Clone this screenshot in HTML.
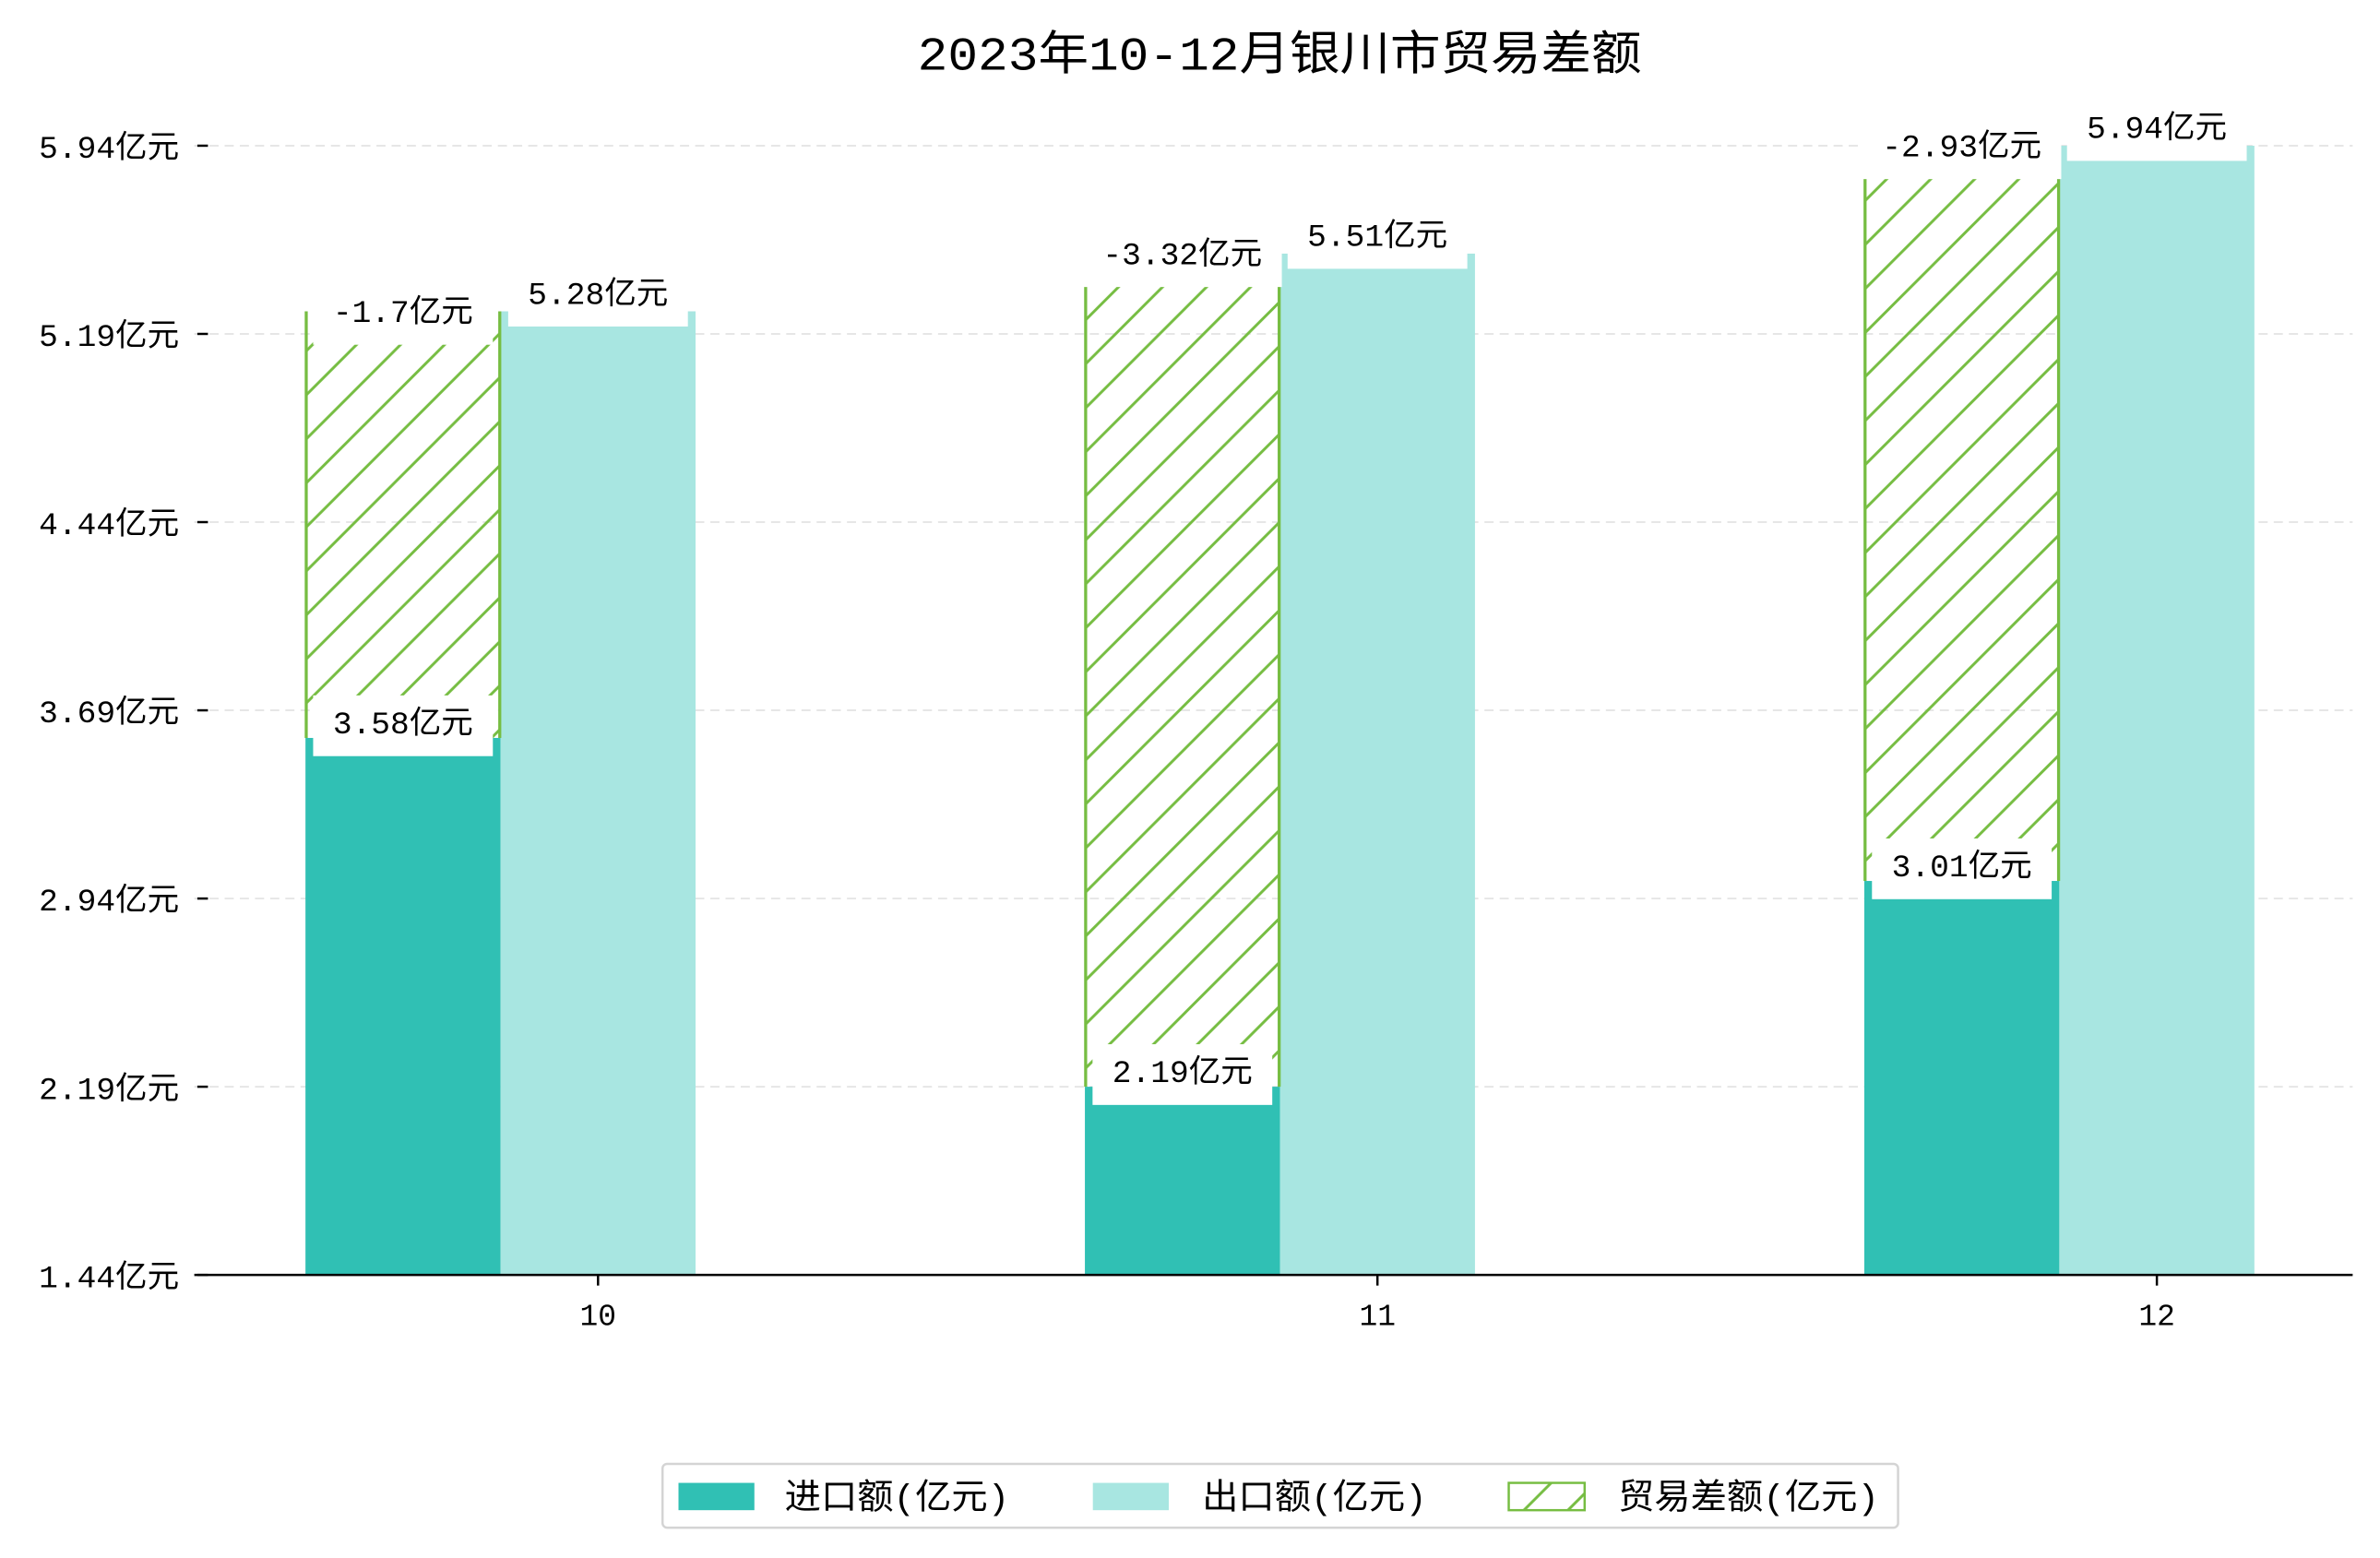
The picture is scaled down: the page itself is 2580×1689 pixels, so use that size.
<!DOCTYPE html>
<html><head><meta charset="utf-8">
<style>
html,body{margin:0;padding:0;background:#fff;}
svg{display:block;}
text{font-family:"Liberation Mono","Noto Sans CJK SC",monospace;}
</style></head>
<body>
<svg id="chart" width="2580" height="1689" viewBox="0 0 1568 1026.5" xmlns="http://www.w3.org/2000/svg">
<defs>
<pattern id="hatch" patternUnits="userSpaceOnUse" width="29" height="29" patternTransform="translate(201,0)">
<line x1="-2" y1="31" x2="31" y2="-2" stroke="#76bd42" stroke-width="1.8"/>
<line x1="-31" y1="31" x2="2" y2="-2" stroke="#76bd42" stroke-width="1.8"/>
<line x1="27" y1="31" x2="60" y2="-2" stroke="#76bd42" stroke-width="1.8"/>
</pattern>
</defs>
<text x="843" y="46" text-anchor="middle" font-size="31" textLength="477" lengthAdjust="spacingAndGlyphs">2023年10-12月银川市贸易差额</text>
<g id="grid"></g>
<g id="bars"></g>
<g id="labels"></g>
<g id="axes"></g>
<g>
<rect x="436.5" y="964.5" width="814" height="42" rx="3" fill="#fff" stroke="#d4d4d4" stroke-width="1.5"/>
<rect x="447" y="977" width="50" height="18" fill="#30c0b4"/>
<text x="517" y="994" font-size="23" textLength="148" lengthAdjust="spacingAndGlyphs">进口额(亿元)</text>
<rect x="720" y="977" width="50" height="18" fill="#a8e6e1"/>
<text x="792" y="994" font-size="23" textLength="148" lengthAdjust="spacingAndGlyphs">出口额(亿元)</text>
<rect x="994" y="977" width="50" height="18" fill="url(#hatch)" stroke="#76bd42" stroke-width="1.5"/>
<text x="1066" y="994" font-size="23" textLength="172" lengthAdjust="spacingAndGlyphs">贸易差额(亿元)</text>
</g>
</svg>
<script>
const categories = ["10", "11", "12"];
const importValues = [3.58, 2.19, 3.01];
const exportValues = [5.28, 5.51, 5.94];
const balanceValues = [-1.7, -3.32, -2.93];
const yTicks = [1.44, 2.19, 2.94, 3.69, 4.44, 5.19, 5.94];
const yMin = 1.44, yMax = 5.94;

const NS = "http://www.w3.org/2000/svg";
const plotTop = 96, plotBottom = 840, axL = 128, axR = 1550;
const catX0 = 394, catStep = 513.5, barW = 128.5;
function y(v){ return plotBottom - (v - yMin) / (yMax - yMin) * (plotBottom - plotTop); }
function x(i){ return catX0 + i * catStep; }
function mk(tag, attrs, parent){ const e=document.createElementNS(NS,tag); for(const k in attrs) e.setAttribute(k,attrs[k]); parent.appendChild(e); return e; }

const grid = document.getElementById('grid');
const bars = document.getElementById('bars');
const labels = document.getElementById('labels');
const axes = document.getElementById('axes');

categories.forEach((c,i)=>{
  const cx = x(i);
  const ix = cx - barW*1.5, ex = cx - barW/2;
  const imp = mk('rect',{x:ix,y:y(importValues[i]),width:barW,height:plotBottom-y(importValues[i]),fill:'#30c0b4'},bars);
  
  
  const exp = mk('rect',{x:ex,y:y(exportValues[i]),width:barW,height:plotBottom-y(exportValues[i]),fill:'#a8e6e1'},bars);
  
  
  const top = y(importValues[i] - balanceValues[i]);
  const bot = y(importValues[i]);
  const bal = mk('rect',{x:ix,y:top,width:barW,height:bot-top,fill:'url(#hatch)'},bars);
  
  
  mk('line',{x1:ix+0.5,y1:top,x2:ix+0.5,y2:bot,stroke:'#76bd42','stroke-width':2},bars);
  mk('line',{x1:ix+barW-0.5,y1:top,x2:ix+barW-0.5,y2:bot,stroke:'#76bd42','stroke-width':2},bars);
});

yTicks.forEach((t)=>{
  const yy = y(t);
  if (t !== yMin) mk('line',{x1:axL,y1:yy,x2:axR,y2:yy,stroke:'#e6e6e6','stroke-width':1.2,'stroke-dasharray':'6,4'},grid);
  mk('line',{x1:130,y1:yy,x2:137,y2:yy,stroke:'#000','stroke-width':1.5},axes);
  const tl = mk('text',{x:118,y:yy+8,'text-anchor':'end','font-size':21},axes);
  tl.textContent = t.toFixed(2)+'亿元';
  
  
});
mk('line',{x1:axL,y1:plotBottom,x2:axR,y2:plotBottom,stroke:'#000','stroke-width':1.5},axes);
categories.forEach((c,i)=>{
  mk('line',{x1:x(i),y1:plotBottom,x2:x(i),y2:plotBottom+7,stroke:'#000','stroke-width':1.5},axes);
  const tl = mk('text',{x:x(i),y:plotBottom+33,'text-anchor':'middle','font-size':20},axes);
  tl.textContent = c;
  
  
});

function label(cx, cy, txt, name){
  const r = mk('rect',{x:cx-62,y:cy-18,width:124,height:40,fill:'#fff'},labels);
  const t = mk('text',{x:cx,y:cy+7,'text-anchor':'middle','font-size':21},labels);
  t.textContent = txt;
  
  
  let w = 100;
  try { w = t.getComputedTextLength(); } catch(e) {}
  r.setAttribute('x', cx - w/2 - 13);
  r.setAttribute('width', w + 26);
}
categories.forEach((c,i)=>{
  const cx = x(i);
  const ic = cx - barW, ec = cx;
  label(ic, y(importValues[i]) - 10, importValues[i]+'亿元', 'import-value-label');
  label(ic, y(importValues[i]-balanceValues[i]), balanceValues[i]+'亿元', 'balance-value-label');
  label(ec, y(exportValues[i]) - 12, exportValues[i]+'亿元', 'export-value-label');
});
</script>
</body></html>
